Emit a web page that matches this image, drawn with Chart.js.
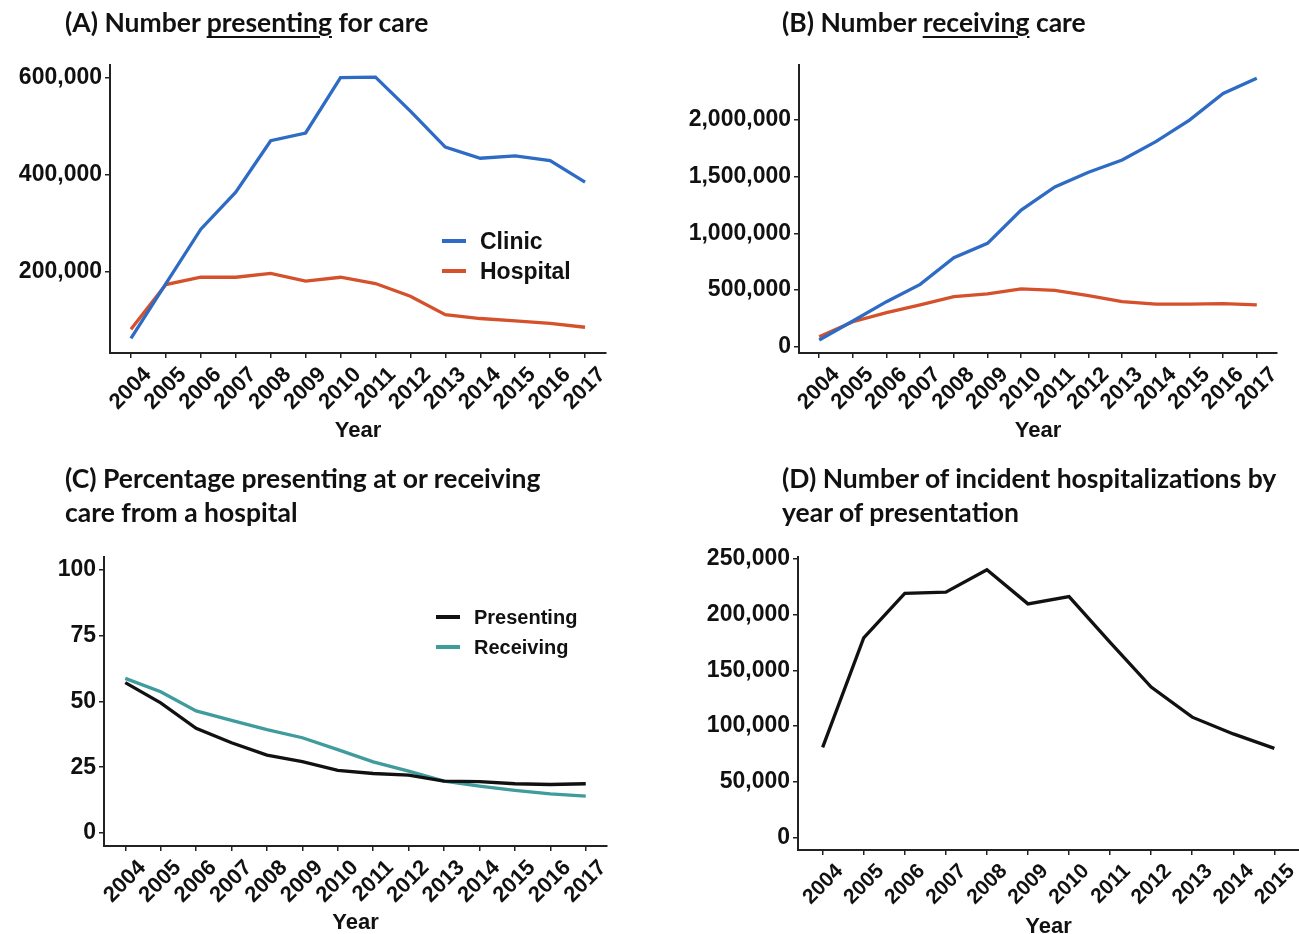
<!DOCTYPE html>
<html>
<head>
<meta charset="utf-8">
<script src="https://cdn.jsdelivr.net/npm/chart.js@4.4.1/dist/chart.umd.min.js"></script>
<style>
  html, body { margin:0; padding:0; background:#fff; overflow:hidden; }
  #page { position:relative; width:1299px; height:934px; }
  .panel { position:absolute; }
  .titulo { position:absolute; font-family:Lato, "Open Sans", sans-serif; font-weight:bold; font-size:26.5px; line-height:34px; color:#111; white-space:nowrap; }
  .titulo u { text-decoration-thickness:2px; text-underline-offset:4px; }
  .leg { position:absolute; font-family:"Liberation Sans", Arial, sans-serif; font-weight:bold; font-size:23px; color:#111; }
  .leg span.linha { position:absolute; left:0; top:11px; width:24px; height:4px; }
  .leg span.txt { position:absolute; left:38px; top:0; line-height:26px; white-space:nowrap; }
</style>
</head>
<body>
<div id="page">
  <div class="panel" style="left:0;top:0;width:649px;height:450px;"><canvas id="chartA"></canvas></div>
  <div class="panel" style="left:650px;top:0;width:649px;height:450px;"><canvas id="chartB"></canvas></div>
  <div class="panel" style="left:0;top:450px;width:649px;height:487px;"><canvas id="chartC"></canvas></div>
  <div class="panel" style="left:650px;top:450px;width:649px;height:490px;"><canvas id="chartD"></canvas></div>

  <div class="titulo" style="left:65px;top:5px;">(A) Number <u>presenting</u> for care</div>
  <div class="titulo" style="left:782px;top:5px;">(B) Number <u>receiving</u> care</div>
  <div class="titulo" style="left:65px;top:461px;">(C) Percentage presenting at or receiving<br>care from a hospital</div>
  <div class="titulo" style="left:782px;top:461px;">(D) Number of incident hospitalizations by<br>year of presentation</div>

  <div class="leg" style="left:442px;top:228px;"><span class="linha" style="background:#2d6bc4"></span><span class="txt">Clinic</span></div>
  <div class="leg" style="left:442px;top:258px;"><span class="linha" style="background:#d4512c"></span><span class="txt">Hospital</span></div>
  <div class="leg" style="left:436px;top:604px;font-size:20px;"><span class="linha" style="background:#111"></span><span class="txt">Presenting</span></div>
  <div class="leg" style="left:436px;top:634px;font-size:20px;"><span class="linha" style="background:#3f9b9c"></span><span class="txt">Receiving</span></div>
</div>

<script>
// dados
var years = [2004,2005,2006,2007,2008,2009,2010,2011,2012,2013,2014,2015,2016,2017];
var yearsD = [2004,2005,2006,2007,2008,2009,2010,2011,2012,2013,2014,2015];

var clinicPresenting = [63000,176000,288000,364000,470000,486000,600000,601000,531000,457000,434000,439000,429000,385000];
var hospitalPresenting = [82000,174000,189000,189000,197000,181000,189000,176000,150000,112000,104000,99000,94000,86000];

var clinicReceiving = [59000,226000,397000,550000,785000,912000,1206000,1410000,1540000,1647000,1810000,2000000,2235000,2370000];
var hospitalReceiving = [88000,220000,300000,368000,441000,465000,510000,497000,450000,397000,376000,376000,380000,368000];

var pctPresenting = [57.2,49.5,39.8,34.3,29.6,27.1,23.8,22.6,22.0,19.7,19.5,18.7,18.4,18.7];
var pctReceiving = [58.8,53.7,46.4,42.8,39.3,36.2,31.7,27.0,23.5,19.7,17.8,16.2,14.8,14.0];

var incidentHosp = [81000,179000,219000,220000,240000,209500,216000,175000,135000,108000,93000,80000];

var ticksA = [200000,400000,600000];
var ticksB = [0,500000,1000000,1500000,2000000];
var ticksC = [0,25,50,75,100];
var ticksD = [0,50000,100000,150000,200000,250000];

var AZUL = '#2d6bc4';
var VERMELHO = '#d4512c';
var VERDE = '#3f9b9c';
var PRETO = '#111111';

var fonte = '"Liberation Sans", Arial, sans-serif';

function fmt(v){
	return v.toLocaleString('en-US');
}

function linha(label, dados, cor){
	return {
		label: label,
		data: dados,
		borderColor: cor,
		backgroundColor: cor,
		borderWidth: 3.3,
		pointRadius: 0,
		tension: 0,
		fill: false
	};
}

function grafico(id, cfg){
	var ctx = document.getElementById(id);
	var labels = cfg.labels;
	return new Chart(ctx, {
		type: 'line',
		data: {
			labels: labels,
			datasets: cfg.datasets
		},
		options: {
			responsive: true,
			maintainAspectRatio: false,
			animation: false,
			layout: { padding: { top: cfg.top, right: cfg.right, left: 0, bottom: 0 } },
			plugins: { legend: { display: false }, tooltip: { enabled: false } },
			scales: {
				x: {
					type: 'linear',
					min: labels[0] - 0.6,
					max: labels[labels.length - 1] + 0.6,
					afterBuildTicks: function(scale){
						scale.ticks = labels.map(function(l){ return { value: l }; });
					},
					afterFit: function(scale){ scale.height = cfg.xh; },
					border: { display: true, color: '#222', width: 2 },
					grid: { drawOnChartArea: false, drawTicks: true, tickLength: 5, color: '#222', lineWidth: 1.5 },
					ticks: {
						autoSkip: false,
						minRotation: 45,
						maxRotation: 45,
						padding: 4,
						labelOffset: cfg.lo,
						color: '#111',
						font: { family: fonte, weight: 'bold', size: cfg.fx },
						callback: function(v){ return String(v); }
					},
					title: {
						display: true,
						text: 'Year',
						color: '#111',
						font: { family: fonte, weight: 'bold', size: 22 },
						padding: { top: 0, bottom: cfg.tb }
					}
				},
				y: {
					min: cfg.min,
					max: cfg.max,
					afterBuildTicks: function(scale){
						scale.ticks = cfg.ticks.map(function(v){ return { value: v }; });
					},
					afterFit: function(scale){ scale.width = cfg.yw; },
					border: { display: true, color: '#222', width: 2 },
					grid: { drawOnChartArea: false, drawTicks: true, tickLength: 5, color: '#222', lineWidth: 1.5 },
					ticks: {
						padding: 3,
						color: '#111',
						font: { family: fonte, weight: 'bold', size: cfg.fy },
						callback: function(v){ return fmt(v); }
					}
				}
			}
		}
	});
}

grafico('chartA', {
	labels: years,
	datasets: [linha('Clinic', clinicPresenting, AZUL), linha('Hospital', hospitalPresenting, VERMELHO)],
	min: 33000, max: 626000, ticks: ticksA,
	top: 65, right: 43, yw: 110, xh: 97, tb: 6, lo: 17, fx: 22, fy: 23
});

grafico('chartB', {
	labels: years,
	datasets: [linha('Clinic', clinicReceiving, AZUL), linha('Hospital', hospitalReceiving, VERMELHO)],
	min: -56000, max: 2486000, ticks: ticksB,
	top: 65, right: 22, yw: 149, xh: 97, tb: 6, lo: 17, fx: 22, fy: 23
});

grafico('chartC', {
	labels: years,
	datasets: [linha('Presenting', pctPresenting, PRETO), linha('Receiving', pctReceiving, VERDE)],
	min: -5, max: 105, ticks: ticksC,
	top: 107, right: 42, yw: 104, xh: 91, tb: 1, lo: 17, fx: 22, fy: 23
});

grafico('chartD', {
	labels: yearsD,
	datasets: [linha('Incident', incidentHosp, PRETO)],
	min: -11000, max: 251500, ticks: ticksD,
	top: 107, right: 0, yw: 148, xh: 90, tb: 0, lo: 17, fx: 21, fy: 23
});
</script>
</body>
</html>
